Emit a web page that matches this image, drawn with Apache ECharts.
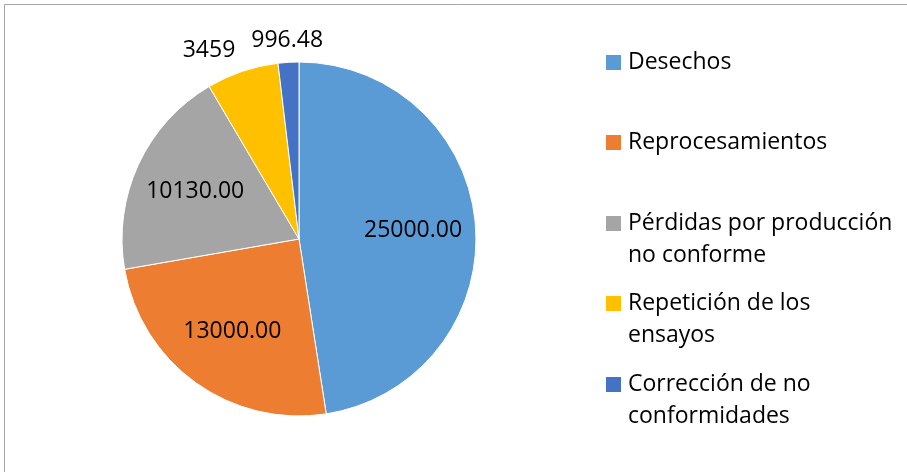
<!DOCTYPE html>
<html>
<head>
<meta charset="utf-8">
<script src="https://cdn.jsdelivr.net/npm/echarts@6/dist/echarts.min.js"></script>
<style>
  html, body { margin: 0; padding: 0; background: #fff; }
  #chart { width: 907px; height: 472px; }
</style>
</head>
<body>
<div id="chart"></div>
<script>
// categorias del grafico
const categories = [
  'Desechos',
  'Reprocesamientos',
  'Pérdidas por producción no conforme',
  'Repetición de los ensayos',
  'Corrección de no conformidades'
];
const values = [25000, 13000, 10130, 3459, 996.48];
const valueLabels = ['25000.00', '13000.00', '10130.00', '3459', '996.48'];
// texto de la leyenda con saltos de linea
const legendLines = [
  'Desechos',
  'Reprocesamientos',
  'Pérdidas por producción\nno conforme',
  'Repetición de los\nensayos',
  'Corrección de no\nconformidades'
];
const colors = ['#5B9BD5', '#ED7D31', '#A5A5A5', '#FFC000', '#4472C4'];

const PIE_X = 299, PIE_Y = 239, PIE_R = 177;
const FONT = '"Open Sans", "Liberation Sans", sans-serif';
const LINE_H = 32;
const ICON = 15;
const iconTops = [55, 135, 216, 296, 377];

const chart = echarts.init(document.getElementById('chart'));

const legends = categories.map((name, i) => {
  const twoLines = legendLines[i].indexOf('\n') >= 0;
  // linea vacia arriba para que la primera linea quede junto al icono
  const txt = twoLines ? '\n' + legendLines[i] : legendLines[i];
  const boxH = LINE_H * (twoLines ? 3 : 1);
  return {
    orient: 'vertical',
    left: 606,
    top: iconTops[i] - (boxH - ICON) / 2,
    padding: 0,
    itemWidth: ICON,
    itemHeight: ICON,
    icon: 'rect',
    itemStyle: { borderWidth: 0 },
    selectedMode: false,
    data: [name],
    formatter: () => txt,
    textStyle: {
      fontFamily: FONT,
      fontSize: 23,
      color: '#000',
      lineHeight: LINE_H,
      padding: [0, 0, 0, 2]
    }
  };
});

chart.setOption({
  animation: false,
  color: colors,
  graphic: [{
    type: 'rect',
    shape: { x: 4.5, y: 4.5, width: 1000, height: 1000 },
    style: { fill: 'none', stroke: '#a6a6a6', lineWidth: 1 },
    silent: true
  }],
  legend: legends,
  series: [{
    type: 'pie',
    center: [PIE_X, PIE_Y],
    radius: PIE_R,
    startAngle: 90,
    clockwise: true,
    avoidLabelOverlap: false,
    itemStyle: { borderColor: '#fff', borderWidth: 1 },
    label: {
      show: true,
      position: 'inside',
      fontFamily: FONT,
      fontSize: 23,
      color: '#000',
      formatter: p => valueLabels[p.dataIndex]
    },
    labelLine: { show: false, length: 22, length2: 0 },
    labelLayout: function (p) {
      const r = p.labelRect;
      const cx = r.x + r.width / 2;
      const cy = r.y + r.height / 2;
      // etiquetas interiores un poco mas hacia el borde
      if (p.dataIndex < 3) {
        return { dx: (cx - PIE_X) * 0.25, dy: (cy - PIE_Y) * 0.25 };
      }
      if (p.dataIndex === 4) {
        return { dx: r.width / 2 };
      }
      return {};
    },
    emphasis: { disabled: true },
    data: categories.map((name, i) => {
      const item = { name: name, value: values[i] };
      if (i >= 3) {
        item.label = { position: 'outside', distanceToLabelLine: 0 };
        item.labelLine = { show: false, length: 22, length2: 0 };
      }
      return item;
    })
  }]
});
</script>
</body>
</html>
